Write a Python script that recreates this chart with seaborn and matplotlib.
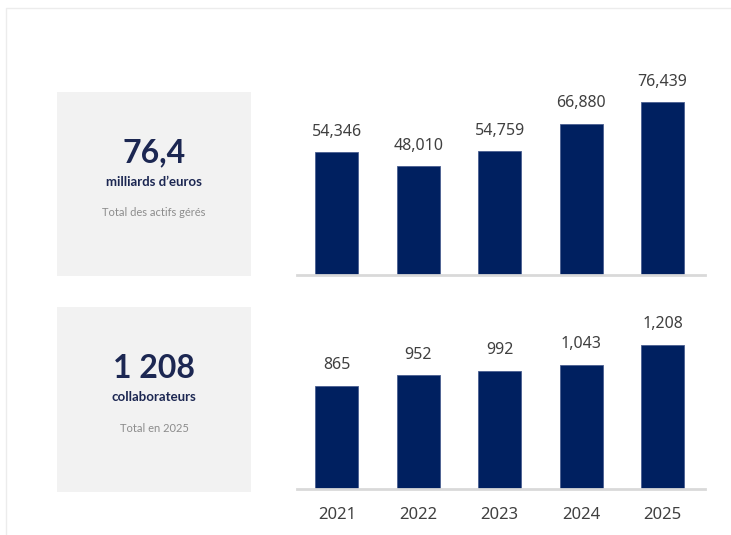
import matplotlib
matplotlib.use("Agg")
import matplotlib.pyplot as plt
import seaborn as sns
from matplotlib.patches import Rectangle

years = ["2021", "2022", "2023", "2024", "2025"]
assets = [54346, 48010, 54759, 66880, 76439]
staff = [865, 952, 992, 1043, 1208]

kpi_values = ["76,4", "1 208"]
kpi_units = ["milliards d\u2019euros", "collaborateurs"]
kpi_notes = ["Total des actifs gérés", "Total en 2025"]

navy = "#002060"
label_grey = "#404040"

sns.set_theme(style="white")
plt.rcParams["font.family"] = ["Noto Sans", "DejaVu Sans"]

W, H = 731, 535
fig = plt.figure(figsize=(W / 100, H / 100), dpi=100)
fig.patch.set_facecolor("white")


def fx(px):
    return px / W


def fy(py):
    return 1 - py / H


# light outer frame
fig.add_artist(Rectangle((fx(6), fy(H + 5)), fx(W + 10), fy(8) - fy(H + 5),
                         transform=fig.transFigure, fill=False,
                         edgecolor="#ececec", lw=1))

# KPI boxes on the left
boxes = [(92, 276), (307, 492)]
for i, (top, bot) in enumerate(boxes):
    fig.add_artist(Rectangle((fx(57), fy(bot)), fx(251 - 57), fy(top) - fy(bot),
                             transform=fig.transFigure, facecolor="#f2f2f2",
                             edgecolor="none"))
    cx = fx(154)
    fig.text(cx, fy(top + 61), kpi_values[i], ha="center", va="center",
             fontsize=23, fontweight="bold", color="#1c2752", family="Lato")
    fig.text(cx, fy(top + 90), kpi_units[i], ha="center", va="center",
             fontsize=9.5, fontweight="bold", color="#1c2752", family="Lato")
    fig.text(cx, fy(top + 121), kpi_notes[i], ha="center", va="center",
             fontsize=8, color="#8c8c8c", family="Lato")

# bar panels
panels = [
    (assets, 60, 275, 95000, False),
    (staff, 300, 489, 1585, True),
]
for values, top, base, ymax, show_years in panels:
    ax = fig.add_axes([fx(297), fy(base), fx(705 - 297), fy(top) - fy(base)])
    sns.barplot(x=years, y=values, ax=ax, color=navy, width=0.53,
                saturation=1, edgecolor="#4a5f90", linewidth=0.6)
    ax.set_xlim(-0.49, 4.52)
    ax.set_ylim(0, ymax)
    ax.bar_label(ax.containers[0], labels=[f"{v:,}" for v in values],
                 padding=9, fontsize=11.5, color=label_grey)
    ax.set_facecolor("none")
    for s in ["top", "right", "left"]:
        ax.spines[s].set_visible(False)
    ax.spines["bottom"].set_color("#d9d9d9")
    ax.spines["bottom"].set_linewidth(2)
    ax.set_yticks([])
    ax.set_xlabel("")
    ax.set_ylabel("")
    ax.tick_params(axis="x", length=0, pad=13, labelsize=12,
                   labelcolor=label_grey)
    if not show_years:
        ax.set_xticklabels([])

fig.savefig("out.png", dpi=100)
